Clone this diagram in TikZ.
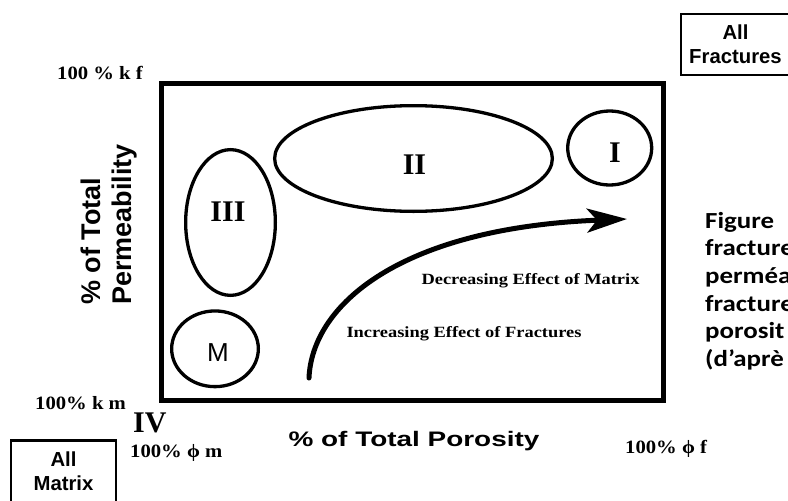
\documentclass[tikz,border=0pt]{standalone}
\usepackage{fontspec}
\setmainfont{Liberation Serif}
\newfontfamily\heavysans{Liberation Sans}
\newfontfamily\widesans[FakeStretch=1.33]{Liberation Sans}
\newfontfamily\wideserif[FakeStretch=1.18]{Liberation Serif}
\newfontfamily\tickserif[FakeStretch=1.1]{Liberation Serif}
\newfontfamily\notefont[FakeStretch=1.17]{Carlito}
\usetikzlibrary{arrows.meta,shapes.geometric}

\begin{document}
\begin{tikzpicture}[
  x=1pt, y=-1pt,
  frame/.style={draw, line width=4.6pt, inner sep=0pt},
  zone/.style={ellipse, draw, line width=3.3pt, inner sep=0pt},
  roman/.style={font=\fontsize{30}{32}\selectfont\bfseries, inner sep=0pt, anchor=base},
  effect/.style={font=\wideserif\fontsize{15.6}{18}\selectfont\bfseries, inner sep=0pt, anchor=base},
  tick/.style={font=\tickserif\fontsize{18.8}{20}\selectfont\bfseries, inner sep=0pt, anchor=base west},
  endbox/.style={draw, line width=2.3pt, inner sep=0pt, align=center,
                 font=\heavysans\bfseries\fontsize{20.3}{24}\selectfont},
  trend/.style={line width=5pt, line cap=round, -{Stealth[length=40pt, width=24pt, inset=10pt]}}
]
  \useasboundingbox (0,0) rectangle (788,501);

  % ── Plot frame ──
  \node[frame, minimum width=501.8pt, minimum height=317.5pt] (plot) at (412.6, 242) {};

  % ── Regions I, II, III, M ──
  \node[zone, minimum width=89.7pt, minimum height=145.7pt] (zIII) at (230.5, 222.5) {};
  \node[zone, minimum width=277.7pt, minimum height=105.7pt] (zII) at (413.5, 158.5) {};
  \node[zone, minimum width=84pt, minimum height=74pt] (zI) at (609.7, 148) {};
  \node[zone, minimum width=86.7pt, minimum height=75.7pt] (zM) at (215, 348.8) {};

  \node[roman] (nIII) at (228, 221.7) {III};
  \node[roman] (nII) at (414.5, 174) {II};
  \node[roman] (nI) at (615, 162) {I};
  \node[font=\heavysans\fontsize{26}{28}\selectfont, inner sep=0pt, anchor=base] (nM) at (218, 361.7) {M};

  % ── Trend arrow ──
  \coordinate (trendstart) at (309, 378);
  \coordinate (trendtip) at (627, 219);
  \draw[trend] (trendstart) .. controls (312, 305) and (400, 228) .. (trendtip);

  \node[effect] (decr) at (530.5, 284.3) {Decreasing Effect of Matrix};
  \node[effect] (incr) at (464, 337.3) {Increasing Effect of Fractures};

  % ── Axes ──
  \node[font=\widesans\bfseries\fontsize{21}{24}\selectfont, inner sep=0pt, anchor=base] (xlab)
    at (414, 446.7) {\% of Total Porosity};
  % base = baseline of the last line
  \node[font=\heavysans\bfseries\fontsize{27}{31.3}\selectfont, inner sep=0pt, rotate=90,
        align=left, anchor=base west] (ylab) at (131.3, 305) {\% of Total\\Permeability};

  \node[tick] (kf) at (57, 79.3) {100 \% k f};
  \node[tick] (km) at (35, 409.3) {100\% k m};
  \node[tick] (phim) at (130, 457.5) {100\% ϕ m};
  \node[tick] (phif) at (625, 453.3) {100\% ϕ f};
  \node[roman, anchor=base west] (nIV) at (133, 432) {IV};

  % ── End members ──
  \node[endbox, minimum width=109pt, minimum height=61.2pt] (allfrac) at (735.5, 44.4) {All\\Fractures};
  \node[endbox, minimum width=105pt, minimum height=61.5pt] (allmat) at (63.5, 471.2) {All\\Matrix};

  % ── Caption (cut at page edge) ──
  \node[font=\notefont\bfseries\fontsize{23}{27.6}\selectfont, align=left, inner sep=0pt,
        anchor=base west] (caption) at (705, 366.3)
    {Figure\\fracture\\perméa\\fracture\\porosit\\(d’aprè};
\end{tikzpicture}
\end{document}
